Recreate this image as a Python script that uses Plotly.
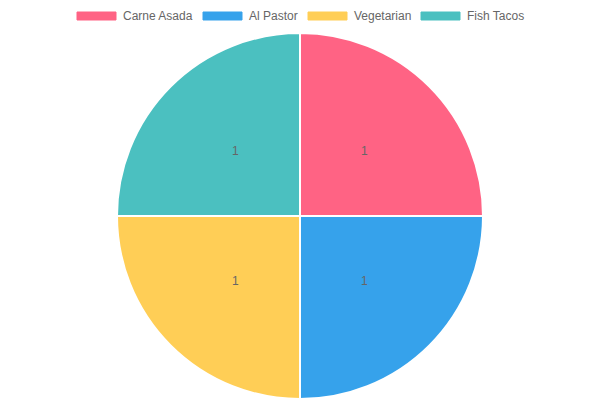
import plotly.graph_objects as go
import numpy as np

# Data
labels = ["Carne Asada", "Al Pastor", "Vegetarian", "Fish Tacos"]
values = [1, 1, 1, 1]
colors = ["#FF6384", "#36A2EB", "#FFCE56", "#4BC0C0"]

W, H = 600, 400
mt, mb = 33, 1
plot_h = H - mt - mb
radius_px = plot_h / 2

fig = go.Figure()

fig.add_trace(go.Pie(
    labels=labels,
    values=values,
    sort=False,
    direction="clockwise",
    rotation=0,
    marker=dict(colors=colors, line=dict(color="white", width=2)),
    textinfo="none",
    showlegend=False,
    hoverinfo="label+value",
))

# value labels at half radius along each slice's mid angle
total = sum(values)
cum = np.cumsum([0] + values[:-1])
rx = radius_px / W
ry = radius_px / plot_h
for c, v in zip(cum, values):
    a = np.deg2rad((c + v / 2) / total * 360)
    fig.add_annotation(
        x=0.5 + 0.5 * rx * np.sin(a),
        y=0.5 + 0.5 * ry * np.cos(a),
        xref="paper", yref="paper",
        xanchor="center", yanchor="middle",
        text=str(v), showarrow=False,
        font=dict(family="Liberation Sans, Arial", size=12, color="#666666"),
    )

# Chart.js style legend on top
box_x = [77, 203, 308, 421]
legend_y = (H - mb - 16) / plot_h
for lab, col, bx in zip(labels, colors, box_x):
    fig.add_shape(
        type="rect", xref="paper", yref="paper",
        x0=bx / W, x1=(bx + 39) / W,
        y0=(H - mb - 20) / plot_h, y1=(H - mb - 12) / plot_h,
        fillcolor=col, line=dict(color=col, width=1),
    )
    fig.add_annotation(
        x=(bx + 44) / W, y=legend_y, xref="paper", yref="paper",
        text=lab, showarrow=False, xanchor="left", yanchor="middle",
        font=dict(family="Liberation Sans, Arial", size=12, color="#666666"),
    )

fig.update_layout(
    width=W, height=H,
    margin=dict(l=0, r=0, t=mt, b=mb),
    paper_bgcolor="white",
    plot_bgcolor="white",
)

fig.write_html("out.html", config={"displayModeBar": False},
               post_script="document.body.style.margin='0px';")
